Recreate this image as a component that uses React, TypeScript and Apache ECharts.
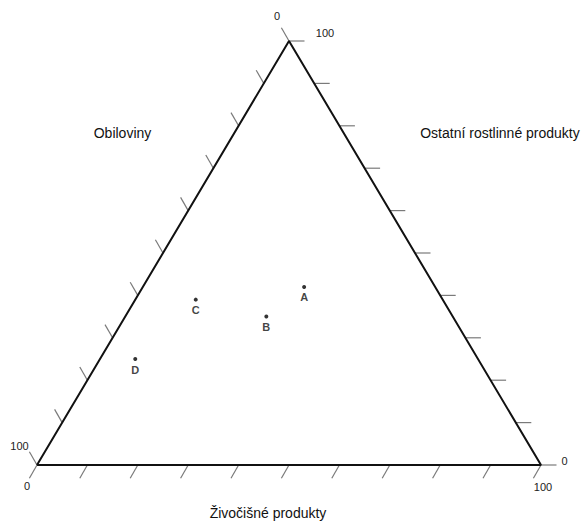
import React, { useEffect, useRef } from "react";
import * as echarts from "echarts";

// Ternary composition (percent) for each point
const pointNames = ["A", "B", "C", "D"];
const obiloviny = [26, 37, 49, 68];
const zivocisne = [32, 28, 12, 7];
const ostatni = [42, 35, 39, 25];

const tickValues = [0, 10, 20, 30, 40, 50, 60, 70, 80, 90, 100];

const axisTitleLeft = "Obiloviny";
const axisTitleRight = "Ostatní rostlinné produkty";
const axisTitleBottom = "Živočišné produkty";

const FONT = "Liberation Sans, Arial, sans-serif";

function toCartesian(ob: number, zi: number, os: number): [number, number] {
  const s = ob + zi + os;
  const z = (zi / s) * 100;
  const o = (os / s) * 100;
  return [z + o / 2, o];
}

export default function App() {
  const ref = useRef<HTMLDivElement>(null);
  useEffect(() => {
    if (!ref.current) return;
    const chart = echarts.init(ref.current, null, { renderer: "svg" });
    const points = pointNames.map((n, i) => ({
      name: n,
      value: toCartesian(obiloviny[i], zivocisne[i], ostatni[i]),
    }));
    const tickColor = "#7a7a7a";
    const labelStyle = (text: string, x: number, y: number) => ({
      type: "text",
      x,
      y,
      style: {
        text,
        fill: "#222",
        font: `11px ${FONT}`,
        align: "center",
        verticalAlign: "middle",
      },
    });
    chart.setOption({
      animation: false,
      grid: { left: 37, top: 41, width: 504, height: 424 },
      xAxis: { type: "value", min: 0, max: 100, show: false },
      yAxis: { type: "value", min: 0, max: 100, show: false },
      series: [
        {
          type: "custom",
          silent: true,
          clip: false,
          z: 1,
          data: tickValues.map((v) => [v]),
          renderItem: (params: any, api: any) => {
            const v = api.value(0);
            const children: any[] = [];
            // left edge: Obiloviny = v
            const pl = api.coord([(100 - v) / 2, 100 - v]);
            children.push({
              type: "line",
              shape: { x1: pl[0], y1: pl[1], x2: pl[0] - 7.6, y2: pl[1] - 13.2 },
              style: { stroke: tickColor, lineWidth: 1.2 },
            });
            // bottom edge: Živočišné = v
            const pb = api.coord([v, 0]);
            children.push({
              type: "line",
              shape: { x1: pb[0], y1: pb[1], x2: pb[0] - 7.6, y2: pb[1] + 13.2 },
              style: { stroke: tickColor, lineWidth: 1.2 },
            });
            // right edge: Ostatní = v
            const pr = api.coord([100 - v / 2, v]);
            children.push({
              type: "line",
              shape: { x1: pr[0], y1: pr[1], x2: pr[0] + 15.5, y2: pr[1] },
              style: { stroke: tickColor, lineWidth: 1.2 },
            });
            if (v === 0) {
              children.push(labelStyle("0", pl[0] - 12, pl[1] - 25));
              children.push(labelStyle("0", pb[0] - 10, pb[1] + 20.5));
              children.push(labelStyle("0", pr[0] + 23.5, pr[1] - 4));
            }
            if (v === 100) {
              children.push(labelStyle("100", pl[0] - 17.5, pl[1] - 19));
              children.push(labelStyle("100", pb[0] + 2, pb[1] + 22));
              children.push(labelStyle("100", pr[0] + 36, pr[1] - 8));
            }
            return { type: "group", children };
          },
        },
        {
          type: "line",
          silent: true,
          z: 2,
          symbol: "none",
          data: [
            [0, 0],
            [100, 0],
            [50, 100],
            [0, 0],
          ],
          lineStyle: { color: "#111", width: 2 },
        },
        {
          type: "scatter",
          z: 3,
          symbol: "circle",
          symbolSize: 4,
          itemStyle: { color: "#000" },
          data: points,
          label: {
            show: true,
            position: "bottom",
            distance: 3,
            formatter: "{b}",
            color: "#111",
            fontFamily: FONT,
            fontWeight: "bold",
            fontSize: 11,
          },
        },
      ],
      graphic: [
        {
          type: "text",
          x: 122.5,
          y: 133,
          style: {
            text: axisTitleLeft,
            fill: "#111",
            font: `14px ${FONT}`,
            align: "center",
            verticalAlign: "middle",
          },
        },
        {
          type: "text",
          x: 500,
          y: 133,
          style: {
            text: axisTitleRight,
            fill: "#111",
            font: `14px ${FONT}`,
            align: "center",
            verticalAlign: "middle",
          },
        },
        {
          type: "text",
          x: 268,
          y: 513,
          style: {
            text: axisTitleBottom,
            fill: "#111",
            font: `14px ${FONT}`,
            align: "center",
            verticalAlign: "middle",
          },
        },
      ],
    });
    return () => chart.dispose();
  }, []);
  return (
    <div
      ref={ref}
      style={{ position: "absolute", left: 0, top: 0, width: 583, height: 522, background: "#fff" }}
    />
  );
}
